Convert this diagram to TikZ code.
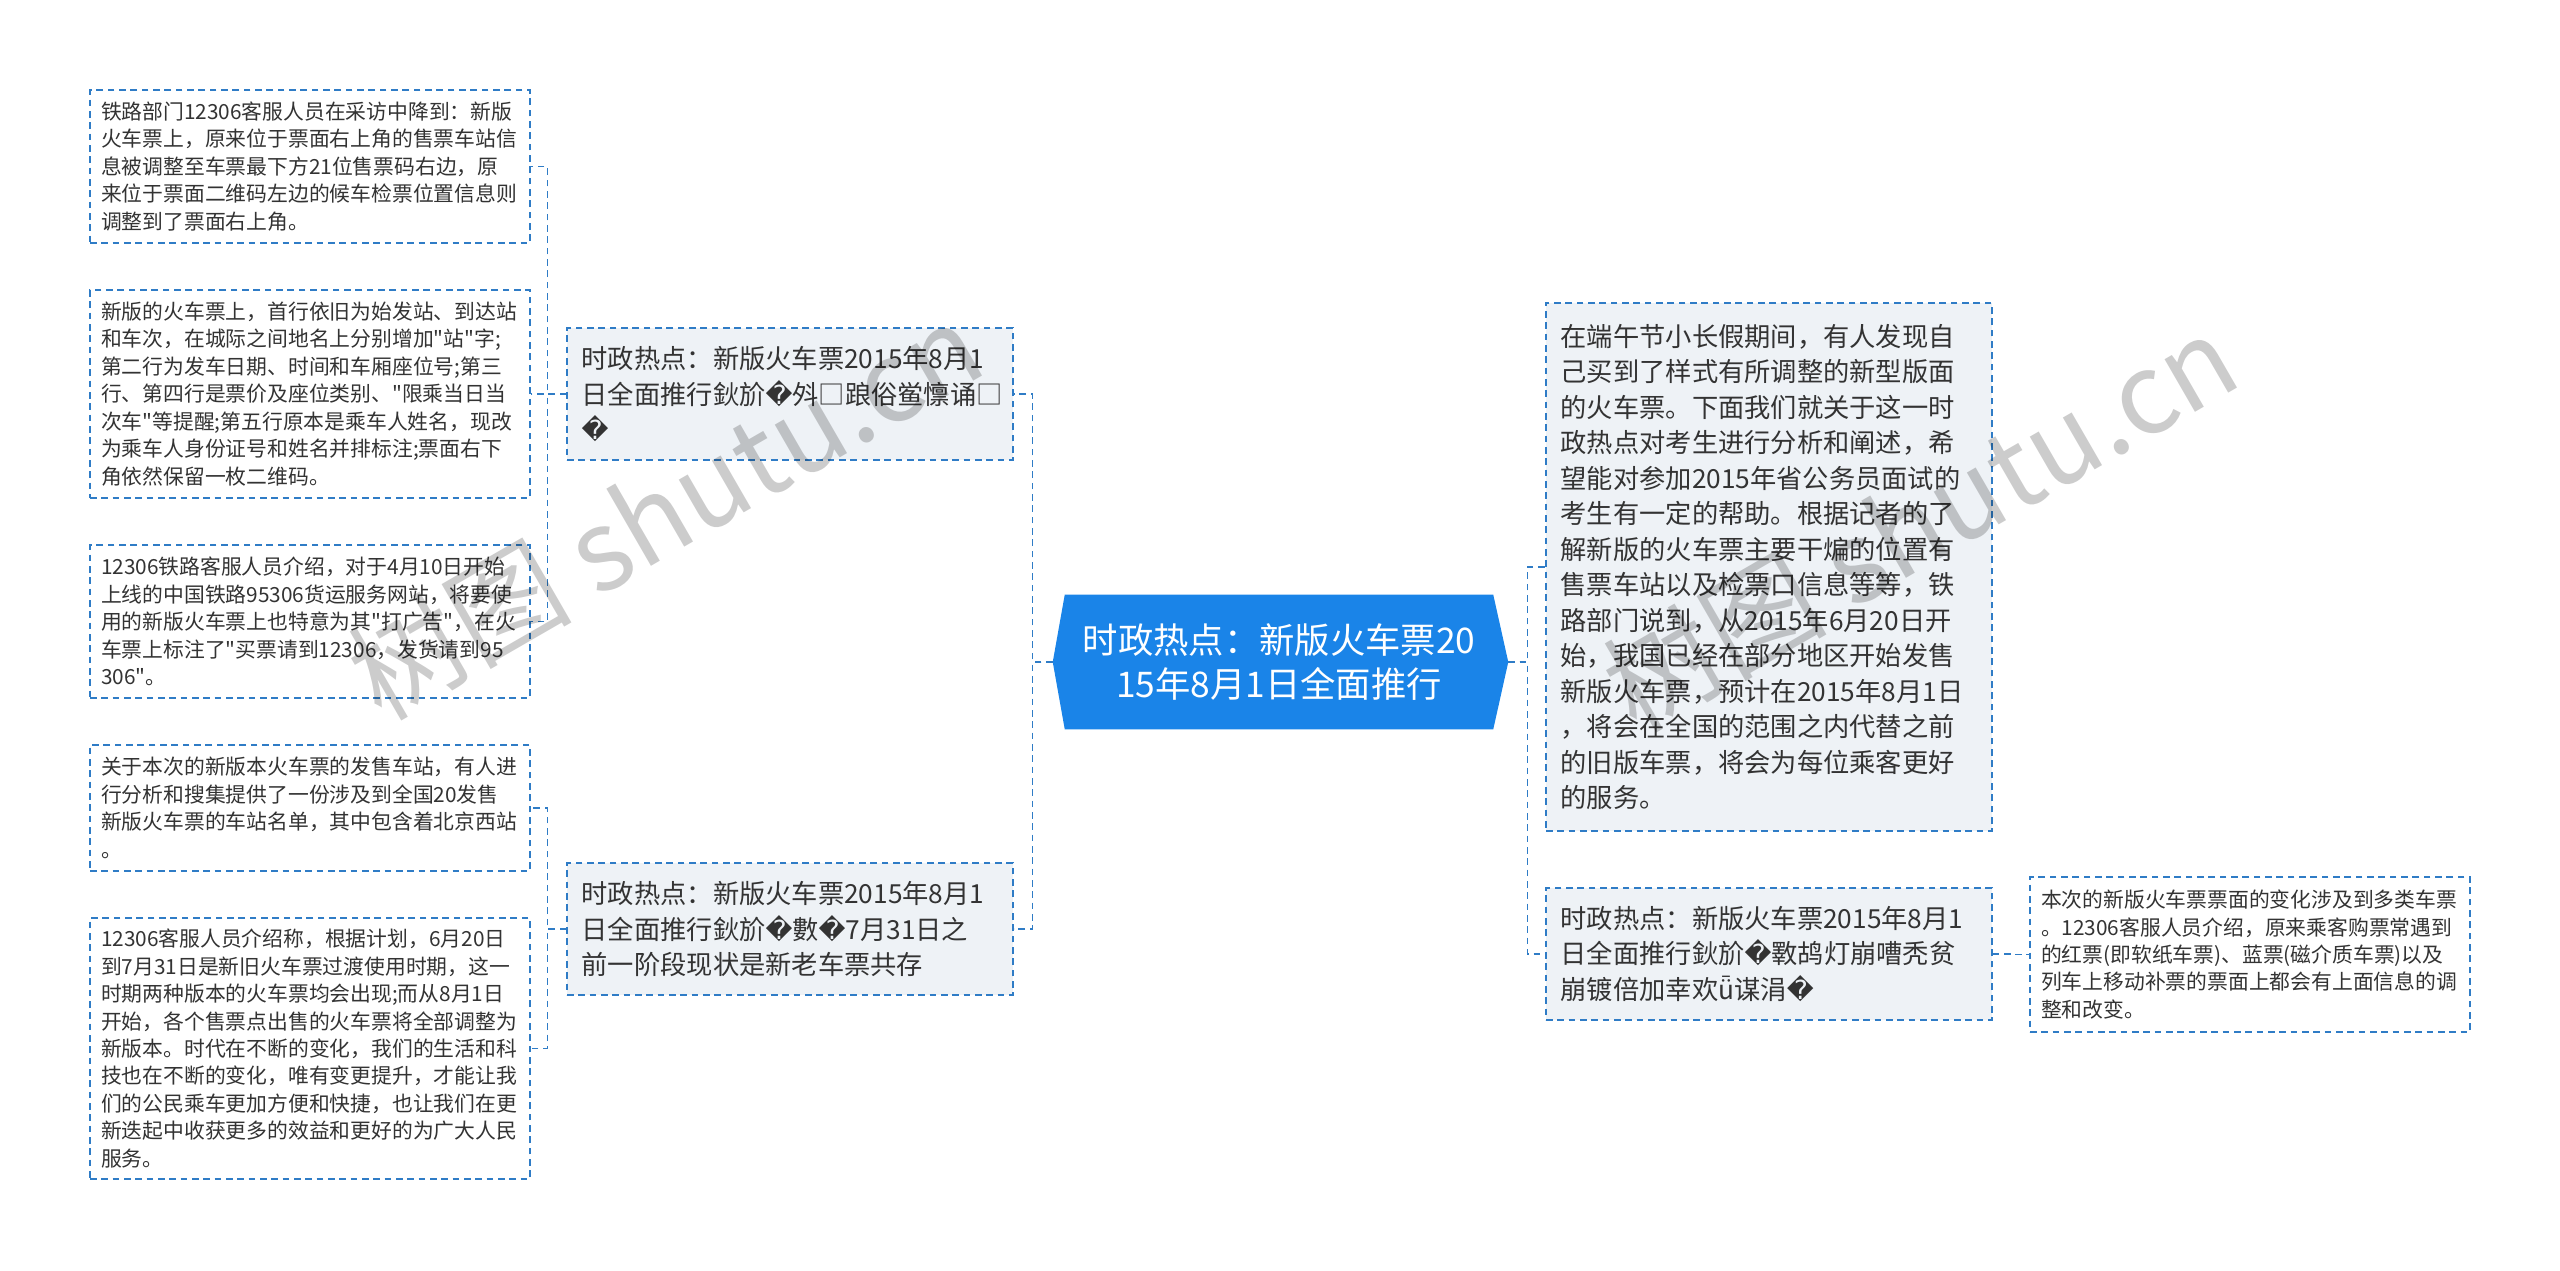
\documentclass[tikz,border=0pt]{standalone}
\usepackage{fontspec}
\newfontfamily\cjk{Noto Sans CJK SC}
\newfontfamily\repfont{DejaVu Sans}
\usetikzlibrary{calc,backgrounds}

\definecolor{lineblue}{HTML}{2F7CC6}
\definecolor{rootblue}{HTML}{1A84E8}
\definecolor{boxgray}{HTML}{EEF2F6}
\definecolor{textgray}{HTML}{333333}

\newcommand{\badchar}{{\repfont\char"FFFD}}

\begin{document}
\begin{tikzpicture}[x=0.75pt,y=-0.75pt,
  leaf/.style={draw=lineblue, line width=1.1pt, dash pattern=on 5pt off 3.5pt,
    fill=white, text=textgray, align=left, inner xsep=8.25pt, inner ysep=0pt,
    text width=313.5pt, minimum height=#1*0.75pt,
    font=\cjk\fontsize{15.6}{20.6}\selectfont},
  branch/.style={draw=lineblue, line width=1.1pt, dash pattern=on 5pt off 3.5pt,
    fill=boxgray, text=textgray, align=left, inner xsep=11pt, inner ysep=0pt,
    text width=312.5pt, minimum height=#1*0.75pt,
    font=\cjk\fontsize{19.7}{26.6}\selectfont},
  rootbox/.style={text=white, align=center, inner sep=0pt,
    minimum width=321pt, minimum height=100.5pt,
    font=\cjk\fontsize{26.5}{32.5}\selectfont},
  link/.style={draw=lineblue, line width=1.1pt, dash pattern=on 5pt off 3.5pt},
  wmark/.style={text=black, text opacity=0.2, rotate=30,
    font=\cjk\fontsize{84}{84}\selectfont}]

  \useasboundingbox (0,0) rectangle (2560,1271);

  %% Root
  \node[rootbox] (root) at (1279,662)
    {时政热点：新版火车票20\\15年8月1日全面推行};
  \coordinate (rootw) at ($(root.west)+(-12,0)$);
  \coordinate (roote) at ($(root.east)+(15,0)$);
  \begin{scope}[on background layer]
    \fill[rootblue] (root.north west) -- (root.north east) -- (roote)
      -- (root.south east) -- (root.south west) -- (rootw) -- cycle;
  \end{scope}

  %% Left branches
  \node[branch=132] (l1) at (790,394)
    {时政热点：新版火车票2015年8月1\\
     日全面推行鈥斺\badchar 斘□踉俗鲎懔诵□\\
     \badchar};
  \node[branch=132] (l2) at (790,929)
    {时政热点：新版火车票2015年8月1\\
     日全面推行鈥斺\badchar 數\badchar 7月31日之\\
     前一阶段现状是新老车票共存};

  %% Leaves of l1
  \node[leaf=153] (a1) at (310,166.5)
    {铁路部门12306客服人员在采访中降到：新版\\
     火车票上，原来位于票面右上角的售票车站信\\
     息被调整至车票最下方21位售票码右边，原\\
     来位于票面二维码左边的候车检票位置信息则\\
     调整到了票面右上角。};
  \node[leaf=208] (a2) at (310,394)
    {新版的火车票上，首行依旧为始发站、到达站\\
     和车次，在城际之间地名上分别增加"站"字;\\
     第二行为发车日期、时间和车厢座位号;第三\\
     行、第四行是票价及座位类别、"限乘当日当\\
     次车"等提醒;第五行原本是乘车人姓名，现改\\
     为乘车人身份证号和姓名并排标注;票面右下\\
     角依然保留一枚二维码。};
  \node[leaf=153] (a3) at (310,621.5)
    {12306铁路客服人员介绍，对于4月10日开始\\
     上线的中国铁路95306货运服务网站，将要使\\
     用的新版火车票上也特意为其"打广告"，在火\\
     车票上标注了"买票请到12306，发货请到95\\
     306"。};

  %% Leaves of l2
  \node[leaf=126] (b1) at (310,808)
    {关于本次的新版本火车票的发售车站，有人进\\
     行分析和搜集提供了一份涉及到全国20发售\\
     新版火车票的车站名单，其中包含着北京西站\\
     。};
  \node[leaf=261] (b2) at (310,1048.5)
    {12306客服人员介绍称，根据计划，6月20日\\
     到7月31日是新旧火车票过渡使用时期，这一\\
     时期两种版本的火车票均会出现;而从8月1日\\
     开始，各个售票点出售的火车票将全部调整为\\
     新版本。时代在不断的变化，我们的生活和科\\
     技也在不断的变化，唯有变更提升，才能让我\\
     们的公民乘车更加方便和快捷，也让我们在更\\
     新迭起中收获更多的效益和更好的为广大人民\\
     服务。};

  %% Right branches
  \node[branch=528] (r1) at (1769,567)
    {在端午节小长假期间，有人发现自\\
     己买到了样式有所调整的新型版面\\
     的火车票。下面我们就关于这一时\\
     政热点对考生进行分析和阐述，希\\
     望能对参加2015年省公务员面试的\\
     考生有一定的帮助。根据记者的了\\
     解新版的火车票主要干煸的位置有\\
     售票车站以及检票口信息等等，铁\\
     路部门说到，从2015年6月20日开\\
     始，我国已经在部分地区开始发售\\
     新版火车票，预计在2015年8月1日\\
     ，将会在全国的范围之内代替之前\\
     的旧版车票，将会为每位乘客更好\\
     的服务。};
  \node[branch=132] (r2) at (1769,954)
    {时政热点：新版火车票2015年8月1\\
     日全面推行鈥斺\badchar 斁鸪灯崩嘈秃贫\\
     崩镀倍加幸欢ǖ谋涓\badchar};
  \node[leaf=155] (r3) at (2250,954.5)
    {本次的新版火车票票面的变化涉及到多类车票\\
     。12306客服人员介绍，原来乘客购票常遇到\\
     的红票(即软纸车票)、蓝票(磁介质车票)以及\\
     列车上移动补票的票面上都会有上面信息的调\\
     整和改变。};

  %% Connectors
  \draw[link] (rootw) -- ++(-20,0) |- (l1.east);
  \draw[link] (rootw) -- ++(-20,0) |- (l2.east);
  \draw[link] (l1.west) -- ++(-19,0) |- (a1.east);
  \draw[link] (l1.west) -- ++(-19,0) |- (a2.east);
  \draw[link] (l1.west) -- ++(-19,0) |- (a3.east);
  \draw[link] (l2.west) -- ++(-19,0) |- (b1.east);
  \draw[link] (l2.west) -- ++(-19,0) |- (b2.east);
  \draw[link] (roote) -- ++(19,0) |- (r1.west);
  \draw[link] (roote) -- ++(19,0) |- (r2.west);
  \draw[link] (r2.east) -- ++(19,0) |- (r3.west);

  %% Watermark
  \node[wmark] (wm1) at (665,510) {树图 shutu.cn};
  \node[wmark] (wm2) at (1920,522) {树图 shutu.cn};

\end{tikzpicture}
\end{document}
